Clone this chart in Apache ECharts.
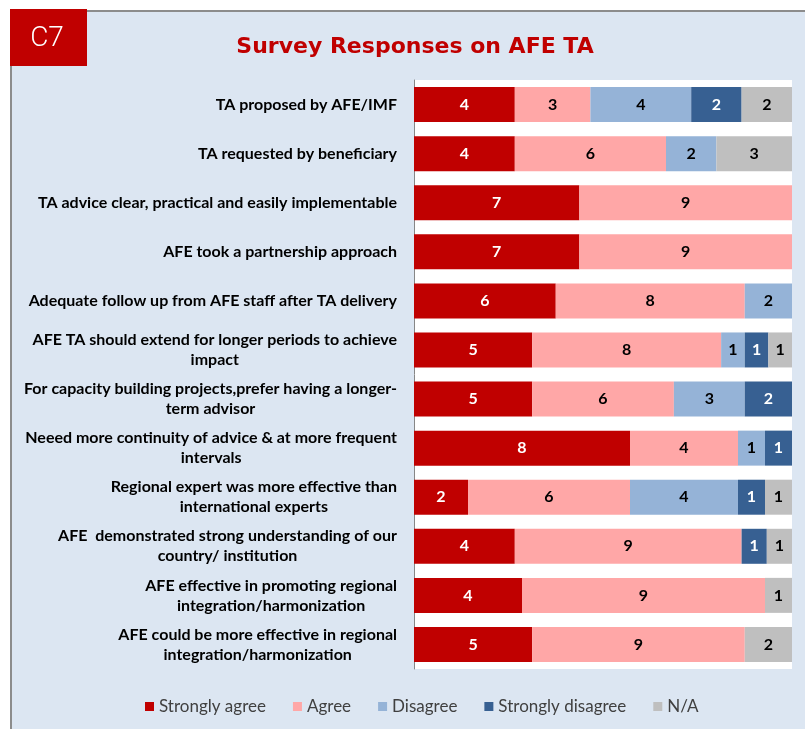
<!DOCTYPE html>
<html>
<head>
<meta charset="utf-8">
<script src="https://cdn.jsdelivr.net/npm/echarts@6/dist/echarts.min.js"></script>
<style>
  html, body { margin: 0; padding: 0; background: #fff; }
  #chart { width: 805px; height: 729px; }
</style>
</head>
<body>
<div id="chart"></div>
<script>
// survey statements, top to bottom
var categories = [
  'TA proposed by AFE/IMF',
  'TA requested by beneficiary',
  'TA advice clear, practical and easily implementable',
  'AFE took a partnership approach',
  'Adequate follow up from AFE staff after TA delivery',
  'AFE TA should extend for longer periods to achieve\nimpact',
  'For capacity building projects,prefer having a longer-\nterm advisor',
  'Neeed more continuity of advice & at more frequent\nintervals',
  'Regional expert was more effective than\ninternational experts',
  'AFE  demonstrated strong understanding of our\ncountry/ institution',
  'AFE effective in promoting regional\nintegration/harmonization',
  'AFE could be more effective in regional\nintegration/harmonization'
];

// number of responses per answer
var stronglyAgree    = [4, 4, 7, 7, 6, 5, 5, 8, 2, 4, 4, 5];
var agree            = [3, 6, 9, 9, 8, 8, 6, 4, 6, 9, 9, 9];
var disagree         = [4, 2, 0, 0, 2, 1, 3, 1, 4, 0, 0, 0];
var stronglyDisagree = [2, 0, 0, 0, 0, 1, 2, 1, 1, 1, 0, 0];
var notApplicable    = [2, 3, 0, 0, 0, 1, 0, 0, 1, 1, 1, 2];

var seriesNames = ['Strongly agree', 'Agree', 'Disagree', 'Strongly disagree', 'N/A'];
var seriesData = [stronglyAgree, agree, disagree, stronglyDisagree, notApplicable];
var colors = ['#c00000', '#ffa7a7', '#95b3d7', '#376092', '#bfbfbf'];
var labelColors = ['#fff', '#000', '#000', '#fff', '#000'];

// each row is shown as 100% stacked
var totals = categories.map(function (c, i) {
  return seriesData.reduce(function (s, arr) { return s + arr[i]; }, 0);
});

var chart = echarts.init(document.getElementById('chart'));

var series = seriesNames.map(function (name, k) {
  return {
    name: name,
    type: 'bar',
    stack: 'total',
    barWidth: 35,
    itemStyle: { color: colors[k] },
    label: {
      show: true,
      color: labelColors[k],
      fontFamily: 'Lato',
      fontWeight: 'bold',
      fontSize: 16,
      formatter: function (p) { return p.data.raw ? String(p.data.raw) : ''; }
    },
    data: seriesData[k].map(function (v, i) {
      return { value: v / totals[i], raw: v };
    })
  };
});

var option = {
  backgroundColor: '#fff',
  animation: false,
  graphic: [
    {
      type: 'rect', z: -10,
      shape: { x: 11, y: 11, width: 820, height: 740 },
      style: { fill: '#dce6f2', stroke: '#8c8c8c', lineWidth: 2 }
    },
    {
      type: 'rect', z: 10,
      shape: { x: 10, y: 9, width: 77, height: 57 },
      style: { fill: '#c00000' }
    },
    {
      type: 'text', z: 11, x: 47, y: 39,
      style: {
        text: 'C7', fill: '#fff', font: '300 28px Roboto',
        align: 'center', verticalAlign: 'middle'
      }
    }
  ],
  title: {
    text: 'Survey Responses on AFE TA',
    left: 410,
    top: 31,
    textAlign: 'center',
    textStyle: {
      color: '#c00000',
      fontFamily: 'DejaVu Sans',
      fontWeight: 'bold',
      fontSize: 22
    }
  },
  legend: {
    bottom: 9,
    left: 140,
    itemWidth: 9,
    itemHeight: 9,
    itemGap: 27,
    icon: 'rect',
    data: seriesNames,
    textStyle: { color: '#404040', fontFamily: 'Lato', fontSize: 17 }
  },
  grid: {
    left: 414, right: 13, top: 80, bottom: 60,
    show: true, backgroundColor: '#fff', borderWidth: 0
  },
  xAxis: {
    type: 'value',
    min: 0,
    max: 1,
    show: false
  },
  yAxis: {
    type: 'category',
    inverse: true,
    data: categories,
    axisLine: { lineStyle: { color: '#868686' } },
    axisTick: { length: 5, lineStyle: { color: '#868686' } },
    axisLabel: {
      margin: 17,
      formatter: function (v) {
        return v.split('\n').map(function (l) { return '{c|' + l + '}'; }).join('\n');
      },
      rich: {
        c: {
          align: 'center',
          fontFamily: 'Lato',
          fontWeight: 'bold',
          fontSize: 16,
          lineHeight: 20,
          color: '#000'
        }
      }
    }
  },
  series: series
};

chart.setOption(option);
</script>
</body>
</html>
